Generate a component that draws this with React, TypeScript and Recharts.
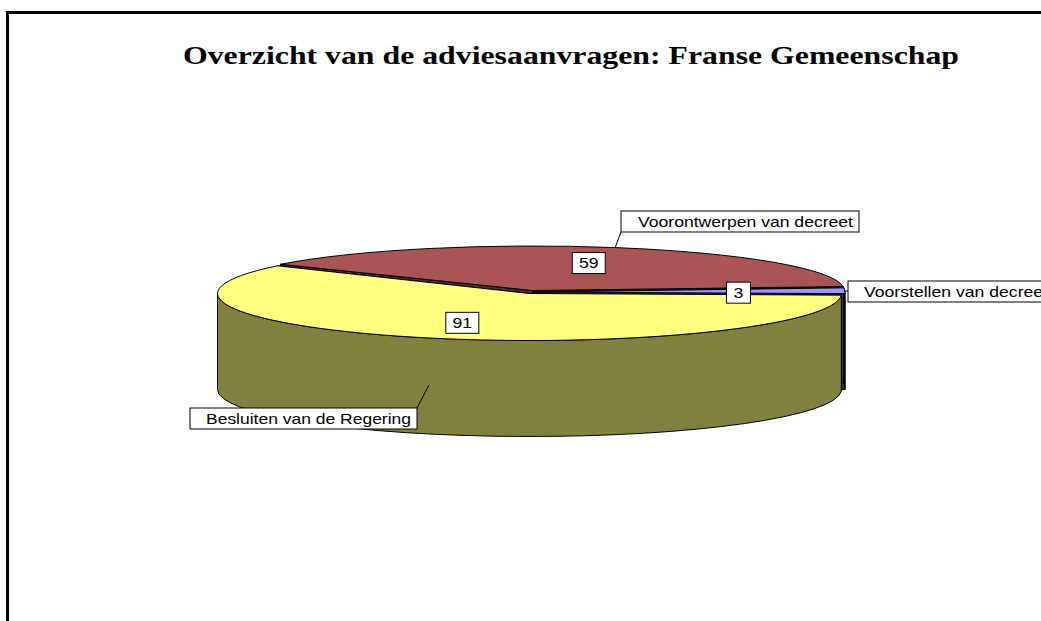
import React from 'react';
import { PieChart, Pie, Cell } from 'recharts';

const title = 'Overzicht van de adviesaanvragen: Franse Gemeenschap';
// drawn back to front, so the yellow slice covers the walls of the other two
const categories = ['Voorontwerpen van decreet', 'Voorstellen van decreet', 'Besluiten van de Regering'];
const values = [59, 3, 91];

const topColors = ['#aa5555', '#9999ff', '#ffff80'];
const wallColors = ['#552b2b', '#33335a', '#808040'];

// exploded offset per slice, and the flattened radius of each top
const offsets = [[3, -3], [3.5, -1.5], [0, 0]];
const radiusY = [44.5, 47, 47];
// how far out on the radius the value box sits
const valueRadius = [0.71, 0.67, 0.66];
// name box: x, y, w, h, text x and stretched text width, then leader line start and end
const nameBoxes = [
  { x: 621, y: 211, w: 238, h: 21, tx: 638, tw: 215, line: [621, 232, 615, 248] },
  { x: 848, y: 281, w: 210, h: 21, tx: 864, tw: 184, line: [844, 291, 848, 291] },
  { x: 190, y: 408, w: 227, h: 21, tx: 206, tw: 205, line: [417, 408, 429, 385] },
];

const tableRows = categories.map((name, i) => ({ name, value: values[i] }));

const CX = 529.5;
const CY = 293.5;
const RX = 312;
const DEPTH = 96;
const FONT = '"Liberation Sans", Arial, sans-serif';

function Slice3D(props: any) {
  const i = categories.indexOf(props.name ?? props.payload?.name);
  const [dx, dy] = offsets[i];
  const RY = radiusY[i];
  const x0 = props.cx + dx;
  const y0 = props.cy + dy;
  const a = Math.min(props.startAngle, props.endAngle);
  const b = Math.max(props.startAngle, props.endAngle);
  const pt = (deg: number, drop = 0) => {
    const r = (deg * Math.PI) / 180;
    return `${x0 + RX * Math.cos(r)} ${y0 - RY * Math.sin(r) + drop}`;
  };
  const top = `M${x0} ${y0} L${pt(a)} A${RX} ${RY} 0 ${b - a > 180 ? 1 : 0} 0 ${pt(b)} Z`;
  const radial = (deg: number) => `M${x0} ${y0} L${pt(deg)} L${pt(deg, DEPTH)} L${x0} ${y0 + DEPTH} Z`;
  // only the front half of the rim can be seen
  const lo = Math.max(a, -180);
  const hi = Math.min(b, 0);
  const wallStyle = { fill: wallColors[i], stroke: '#000', strokeWidth: 1 };
  return (
    <g>
      <path d={radial(a)} {...wallStyle} />
      <path d={radial(b)} {...wallStyle} />
      {hi > lo && (
        <path
          d={`M${pt(lo)} A${RX} ${RY} 0 0 0 ${pt(hi)} L${pt(hi, DEPTH)} A${RX} ${RY} 0 0 1 ${pt(lo, DEPTH)} Z`}
          {...wallStyle}
        />
      )}
      <path d={top} fill={topColors[i]} stroke="#000" strokeWidth={1} />
    </g>
  );
}

function SliceLabel(props: any) {
  const i = categories.indexOf(props.name ?? props.payload?.name);
  const r = (props.midAngle * Math.PI) / 180;
  const vx = props.cx + RX * valueRadius[i] * Math.cos(r);
  const vy = props.cy - radiusY[i] * valueRadius[i] * Math.sin(r);
  const label = String(props.value);
  const boxW = label.length > 1 ? 33 : 24;
  const box = nameBoxes[i];
  return (
    <g>
      <rect x={vx - boxW / 2} y={vy - 10.5} width={boxW} height={21} fill="#fff" stroke="#000" />
      <text
        x={vx}
        y={vy + 5}
        textAnchor="middle"
        fontFamily={FONT}
        fontSize={15}
        textLength={label.length * 9.8}
        lengthAdjust="spacingAndGlyphs"
        fill="#000"
      >
        {label}
      </text>
      <line x1={box.line[0]} y1={box.line[1]} x2={box.line[2]} y2={box.line[3]} stroke="#000" />
      <rect x={box.x} y={box.y} width={box.w} height={box.h} fill="#fff" stroke="#000" />
      <text
        x={box.tx}
        y={box.y + 15.5}
        fontFamily={FONT}
        fontSize={15}
        textLength={box.tw}
        lengthAdjust="spacingAndGlyphs"
        fill="#000"
      >
        {categories[i]}
      </text>
    </g>
  );
}

export default function App() {
  return (
    <div style={{ position: 'absolute', left: 0, top: 0, width: 1041, height: 621, overflow: 'hidden', background: '#fff' }}>
      <PieChart width={1041} height={621} margin={{ top: 0, right: 0, bottom: 0, left: 0 }}>
        <path d="M7.5 621 L7.5 12.5 L1041 12.5" fill="none" stroke="#000" strokeWidth={3} />
        <text
          x={571}
          y={63.5}
          textAnchor="middle"
          fontFamily='"Liberation Serif", "Times New Roman", serif'
          fontWeight="bold"
          fontSize={24.5}
          textLength={776}
          lengthAdjust="spacingAndGlyphs"
          fill="#000"
        >
          {title}
        </text>
        <Pie
          data={tableRows}
          dataKey="value"
          nameKey="name"
          cx={CX}
          cy={CY}
          innerRadius={0}
          outerRadius={RX}
          startAngle={143.9}
          endAngle={-216.1}
          shape={Slice3D}
          label={SliceLabel}
          labelLine={false}
          isAnimationActive={false}
        >
          {tableRows.map((row, i) => (
            <Cell key={row.name} fill={topColors[i]} />
          ))}
        </Pie>
      </PieChart>
    </div>
  );
}
